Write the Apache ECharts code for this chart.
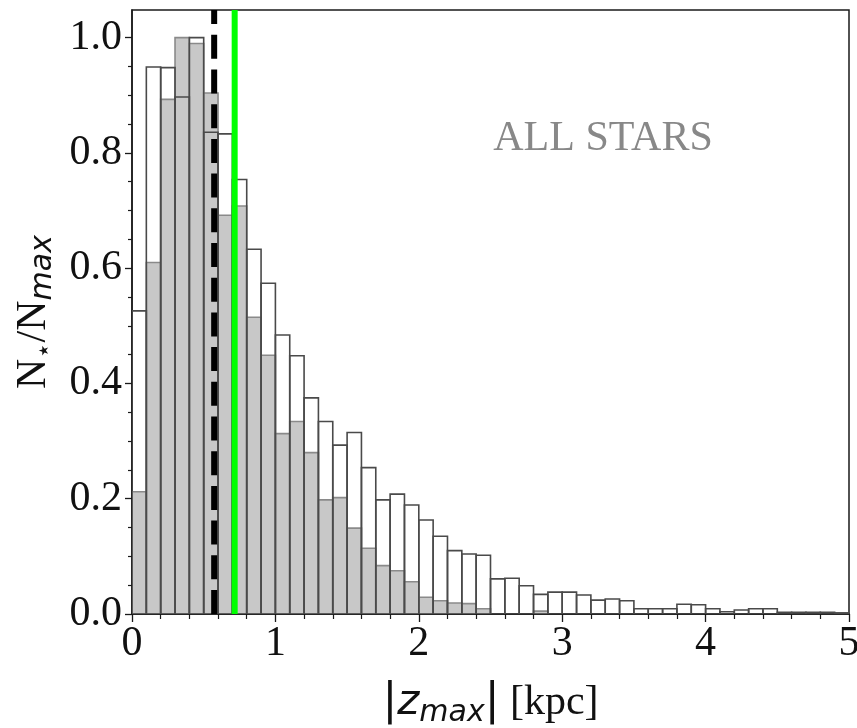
<!DOCTYPE html>
<html>
<head>
<meta charset="utf-8">
<script src="https://cdn.jsdelivr.net/npm/echarts@6/dist/echarts.min.js"></script>
<style>
html,body{margin:0;padding:0;background:#fff;}
#chart{width:857px;height:728px;}
</style>
</head>
<body>
<div id="chart"></div>
<script>
// Bin lower edges (kpc), bin width 0.1
const binLow = [0.0,0.1,0.2,0.3,0.4,0.5,0.6,0.7,0.8,0.9,
                1.0,1.1,1.2,1.3,1.4,1.5,1.6,1.7,1.8,1.9,
                2.0,2.1,2.2,2.3,2.4,2.5,2.6,2.7,2.8,2.9,
                3.0,3.1,3.2,3.3,3.4,3.5,3.6,3.7,3.8,3.9,
                4.0,4.1,4.2,4.3,4.4,4.5,4.6,4.7,4.8,4.9];
const binWidth = 0.1;
// Open (unfilled) histogram, N/Nmax
const openVals = [0.526,0.949,0.948,0.897,1.000,0.836,0.833,0.754,0.633,0.574,
                  0.484,0.448,0.375,0.334,0.293,0.315,0.254,0.198,0.208,0.189,
                  0.163,0.135,0.110,0.104,0.102,0.061,0.062,0.049,0.034,0.038,
                  0.038,0.033,0.024,0.026,0.023,0.009,0.009,0.009,0.017,0.016,
                  0.009,0.004,0.007,0.009,0.009,0.003,0.003,0.003,0.003,0.002];
// Filled grey histogram, N/Nmax
const greyVals = [0.212,0.610,0.893,1.000,0.990,0.904,0.692,0.708,0.515,0.449,
                  0.313,0.334,0.280,0.198,0.202,0.149,0.114,0.084,0.075,0.056,
                  0.029,0.023,0.019,0.018,0.009,0.000,0.000,0.000,0.005,0.000,
                  0,0,0,0,0,0,0,0,0,0,
                  0,0,0,0,0,0,0,0,0,0];
// Vertical reference lines (kpc)
const dashedLineX = 0.573;
const greenLineX = 0.716;
// Axis ticks
const yMajorTicks = [0,0.2,0.4,0.6,0.8,1.0];
const yMinorTicks = [0.05,0.1,0.15,0.25,0.3,0.35,0.45,0.5,0.55,0.65,0.7,0.75,0.85,0.9,0.95];
const yMax = 1.048;
const annotation = 'ALL STARS';

const serif = 'Liberation Serif';
const sans = 'DejaVu Sans';

function histData(vals){
  return vals.map((v,i)=>[binLow[i], binLow[i]+binWidth, v]);
}
function makeRender(fill, stroke, lw){
  return function(params, api){
    const v = api.value(2);
    if (!(v > 0)) return null;
    const p0 = api.coord([api.value(0), 0]);
    const p1 = api.coord([api.value(1), v]);
    return {
      type:'rect',
      shape:{x:p0[0], y:p1[1], width:p1[0]-p0[0], height:p0[1]-p1[1]},
      style:{fill:fill, stroke:stroke, lineWidth:lw}
    };
  };
}

const chart = echarts.init(document.getElementById('chart'), null, {renderer:'canvas'});
chart.setOption({
  animation:false,
  backgroundColor:'#fff',
  grid:{left:132, right:8, top:10, bottom:114, containLabel:false, outerBoundsMode:'none',
        show:true, borderColor:'#1a1a1a', borderWidth:1.5, backgroundColor:'transparent'},
  xAxis:{
    type:'value', min:0, max:5, interval:1,
    axisLine:{show:true, onZero:false, lineStyle:{color:'#1a1a1a', width:1.5}},
    axisTick:{show:true, inside:false, length:8, lineStyle:{color:'#1a1a1a', width:1.3}},
    minorTick:{show:true, splitNumber:5, length:5, lineStyle:{color:'#1a1a1a', width:1.2}},
    splitLine:{show:false}, minorSplitLine:{show:false},
    axisLabel:{fontFamily:serif, fontSize:42, color:'#111', margin:9},
    name:'{b||}{z|z}{m|max}{b||}{t| [kpc]}',
    nameLocation:'middle', nameGap:64,
    nameTextStyle:{
      color:'#111',
      rich:{
        b:{fontFamily:sans, fontSize:44, lineHeight:50, color:'#111'},
        z:{fontFamily:sans, fontStyle:'italic', fontSize:42, lineHeight:50, color:'#111'},
        m:{fontFamily:sans, fontStyle:'italic', fontSize:30, lineHeight:32, verticalAlign:'bottom', color:'#111'},
        t:{fontFamily:serif, fontSize:42, lineHeight:50, color:'#111'}
      }
    }
  },
  yAxis:[{
    type:'value', min:0, max:yMax,
    axisLine:{show:true, onZero:false, lineStyle:{color:'#1a1a1a', width:1.5}},
    axisTick:{show:true, length:7, customValues:yMajorTicks, lineStyle:{color:'#1a1a1a', width:1.3}},
    axisLabel:{fontFamily:serif, fontSize:42, color:'#111', margin:10, customValues:yMajorTicks,
      formatter:(v)=>v.toFixed(1)},
    splitLine:{show:false},
    name:'{n|N}{s|⋆}{n|/N}{m|max}',
    nameLocation:'middle', nameGap:70,
    nameTextStyle:{
      color:'#111',
      rich:{
        n:{fontFamily:serif, fontSize:42, lineHeight:50, color:'#111'},
        s:{fontFamily:sans, fontSize:26, lineHeight:50, verticalAlign:'bottom', color:'#111'},
        m:{fontFamily:sans, fontStyle:'italic', fontSize:30, lineHeight:34, verticalAlign:'bottom', color:'#111'}
      }
    }
  },{
    type:'value', min:0, max:yMax, position:'left',
    axisLine:{show:false},
    axisTick:{show:true, length:4, customValues:yMinorTicks, lineStyle:{color:'#1a1a1a', width:1.2}},
    axisLabel:{show:false},
    splitLine:{show:false}
  }],
  series:[
    {
      type:'custom', name:'grey', xAxisIndex:0, yAxisIndex:0, clip:true, z:2,
      renderItem:makeRender('#c8c8c8', '#8a8a8a', 1.6),
      data:histData(greyVals)
    },
    {
      type:'custom', name:'open', xAxisIndex:0, yAxisIndex:0, clip:true, z:3,
      renderItem:makeRender('rgba(0,0,0,0)', '#4a4a4a', 1.6),
      data:histData(openVals)
    },
    {
      type:'line', name:'dashed', xAxisIndex:0, yAxisIndex:0, symbol:'none', z:5,
      lineStyle:{color:'#000', width:6, type:[24,10.7], cap:'butt'},
      data:[[dashedLineX,0],[dashedLineX,yMax]]
    },
    {
      type:'line', name:'green', xAxisIndex:0, yAxisIndex:0, symbol:'none', z:5,
      lineStyle:{color:'#00ff00', width:6},
      data:[[greenLineX,0],[greenLineX,yMax]]
    }
  ],
  graphic:[{
    type:'text', x:603, y:139,
    style:{text:annotation, fontFamily:serif, fontSize:42, fill:'#888888', textAlign:'center', textVerticalAlign:'middle'},
    z:10
  }]
});
</script>
</body>
</html>
